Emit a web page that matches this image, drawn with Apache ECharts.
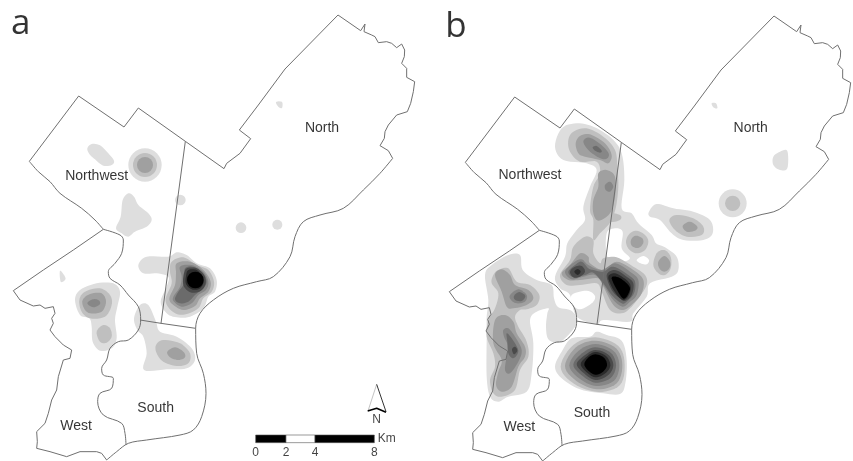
<!DOCTYPE html>
<html><head><meta charset="utf-8">
<style>html,body{margin:0;padding:0;background:#fff}#c{width:853px;height:461px;filter:blur(0.35px)}</style>
<script src="https://cdn.jsdelivr.net/npm/echarts@6/dist/echarts.min.js"></script>
</head><body><div id="c"></div>
<script>
// Map units are thirds of a pixel. "lower" moves points read on the lower half of the sheet.
const lower = pts => pts.map(p => [p[0], p[1] + 660]);
const shift = pts => pts.map(p => [p[0] + 18, p[1] + 3]);

const greys = ['#fff','#dedede','#bfbfbf','#a0a0a0','#878787','#6b6b6b','#4a4a4a','#2a2a2a','#000'];

// ---- district boundaries ----
const northwestEdge = [[310,688],[285,660],[245,625],[180,580],[150,545],[115,515],[88,484]];
const northEdge = [[88,484],[236,288],[372,381],[415,324],[556,424],[672,506],[680,490],[720,460],[752,416],[718,390],[775,315],[855,207],[1014,45],[1082,92],[1095,72],[1092,95],[1115,105],[1125,110],[1135,128],[1160,125],[1175,130],[1190,143],[1205,132],[1214,150],[1213,170],[1205,190],[1220,205],[1220,232],[1244,245],[1240,275],[1232,310],[1222,335],[1190,345],[1165,375],[1155,395],[1153,415],[1140,437],[1165,452],[1178,475]];
const eastRiver = [[1178,475],[1140,520],[1090,570],[1030,625],[960,645],[910,665],[885,710],[870,770],[820,830],[770,845],[700,865],[640,900],[600,940],[587,985],[590,1060],[610,1120],[618,1180],[605,1250],[580,1290],[540,1305],[440,1320],[385,1330],[350,1355],[320,1380]];
const westEdge = [[320,1380],[305,1360],[290,1355],[240,1355],[200,1370],[150,1355],[110,1345],[112,1325],[110,1295],[135,1270],[145,1240],[155,1200],[170,1170],[175,1130],[190,1080],[210,1075],[215,1050],[190,1035],[165,1010],[150,990],[160,970],[155,955],[165,940],[160,920],[135,925],[120,915],[100,918],[60,900],[40,872],[130,810],[220,750],[310,688]];
const riverEdge = [[310,688],[360,705],[370,720],[365,760],[345,790],[325,815],[330,835],[360,855],[385,885],[415,920],[422,960],[415,990],[385,1020],[355,1025],[330,1045],[320,1080],[305,1105],[310,1125],[340,1135],[335,1165],[300,1180],[293,1205],[310,1245],[365,1270],[375,1300],[378,1335]];
const northDivide = [[556,424],[483,970]];
const southDivide = [[420,960],[483,970],[587,985]];

const straightParts = [northEdge, westEdge, northDivide, southDivide];
const curvedParts = [northwestEdge, eastRiver, riverEdge];

// ---- density contours, panel a : [grey level, points] ----
const contoursA = [
  [1, [[262,445],[275,432],[300,436],[325,460],[342,482],[335,495],[310,497],[285,478],[268,462]]],
  [1, [[385,580],[402,590],[415,615],[445,640],[455,660],[440,680],[405,695],[385,710],[365,700],[348,685],[362,650],[368,600]]],
  [1, [[828,306],[846,306],[846,324],[835,320]]],
  [1, lower([[180,152],[195,170],[195,180],[182,185]])],
  [1, lower([[415,135],[440,110],[505,110],[530,97],[560,105],[590,130],[630,145],[650,180],[645,215],[625,230],[610,265],[570,290],[530,292],[500,280],[482,245],[500,200],[505,170],[470,160],[430,160]])],
  [2, lower([[515,125],[550,112],[590,135],[625,150],[642,185],[635,215],[610,235],[595,265],[560,282],[530,282],[505,262],[497,235],[515,190],[510,155]])],
  [3, lower([[530,130],[570,125],[610,150],[632,185],[625,215],[600,235],[585,258],[550,270],[520,255],[508,235],[525,195],[528,160]])],
  [4, lower([[540,140],[575,135],[610,155],[625,185],[618,210],[595,225],[575,250],[545,260],[522,245],[520,230],[540,200],[545,170]])],
  [5, lower([[555,145],[580,140],[610,160],[620,185],[610,205],[585,225],[565,245],[540,250],[525,238],[535,215],[550,195],[555,170]])],
  [6, lower([[560,145],[590,145],[612,165],[617,190],[603,212],[575,218],[552,200],[550,170]])],
  [7, lower([[565,150],[590,150],[607,170],[610,190],[597,207],[575,208],[558,192],[558,168]])],
  [1, lower([[225,240],[240,210],[290,190],[340,190],[360,215],[352,260],[345,300],[350,355],[335,385],[300,392],[278,365],[275,320],[268,295],[240,285]])],
  [2, lower([[238,240],[255,215],[300,205],[330,225],[335,255],[315,290],[270,295],[245,275]])],
  [3, lower([[248,240],[270,222],[305,220],[318,245],[305,275],[270,280],[252,265]])],
  [4, lower([[262,250],[278,238],[295,240],[300,252],[280,262]])],
  [2, lower([[290,335],[310,315],[330,325],[335,350],[320,368],[300,365]])],
  [1, lower([[402,295],[420,255],[445,255],[468,305],[480,335],[530,350],[575,385],[585,420],[560,445],[500,448],[432,450],[440,400],[430,350],[412,330]])],
  [2, lower([[468,375],[490,360],[540,370],[570,400],[565,430],[530,438],[490,425],[470,400]])],
  [3, lower([[502,395],[525,382],[550,395],[555,412],[535,420],[510,412]])]
];
// round spots, panel a : [x, y, radius, grey level]
const spotsA = [
  [435,495,50,1],[435,495,36,2],[435,495,24,3],
  [541,600,16,1],[723,683,16,1],[832,674,15,1],
  [586,840,25,8]
];

// ---- density contours, panel b ----
const contoursB = [
  [1, [[657,635],[680,612],[730,625],[790,635],[840,660],[848,700],[820,720],[760,720],[725,700],[690,660],[660,650]]],
  [2, [[718,660],[740,645],[790,655],[820,680],[815,705],[770,710],[735,690]]],
  [3, [[758,678],[780,665],[802,680],[795,692],[770,695]]],
  [1, [[845,310],[858,310],[862,325],[850,322]]],
  [1, [[1030,470],[1050,455],[1072,453],[1072,505],[1050,510],[1030,495]]],
  // central mass, light level
  [1, [[375,440],[395,385],[440,370],[490,380],[545,415],[575,460],[583,540],[575,625],[605,640],[625,670],[665,705],[678,730],[705,742],[740,770],[745,810],[725,830],[660,850],[650,890],[610,940],[600,965],[520,960],[500,972],[440,950],[420,885],[390,865],[375,830],[405,770],[412,730],[440,690],[465,660],[460,620],[480,560],[500,510],[470,490],[400,480]]],
  [1, lower([[165,165],[185,135],[235,105],[270,105],[278,150],[320,180],[365,195],[372,235],[385,262],[420,270],[438,290],[435,320],[405,355],[385,368],[355,358],[348,320],[352,280],[355,265],[320,275],[300,300],[310,370],[305,460],[290,515],[235,530],[205,545],[180,530],[170,470],[170,350],[170,290],[175,240]])],
  // unshaded gaps inside the central mass
  [0, lower([[530,40],[555,25],[578,35],[575,85],[600,115],[570,125],[532,110]])],
  [0, lower([[620,120],[640,108],[657,120],[650,133],[632,130]])],
  [0, lower([[425,225],[470,212],[495,228],[485,250],[450,268],[430,255]])],
  // ridge from the northwest peak
  [2, [[415,420],[430,395],[470,385],[520,410],[555,450],[562,500],[565,560],[558,620],[545,660],[530,680],[510,700],[490,720],[490,660],[480,630],[490,560],[510,520],[500,485],[450,485],[420,455]]],
  [2, [[535,640],[570,645],[570,660],[540,665]]],
  [3, [[437,430],[450,408],[480,403],[525,430],[545,465],[535,490],[510,480],[465,470],[445,460]]],
  [3, [[505,520],[530,510],[555,530],[555,590],[540,640],[505,662],[490,640],[490,600],[505,560]]],
  [4, [[460,425],[480,413],[520,440],[537,465],[520,478],[480,455]]],
  [5, [[488,442],[500,438],[515,452],[510,458],[495,452]]],
  [4, [[525,555],[540,545],[550,560],[540,575],[527,570]]],
  // two rounded lobes
  [2, lower([[620,32],[645,45],[655,65],[645,90],[620,100],[597,88],[588,65],[598,42]])],
  [3, lower([[620,47],[637,55],[640,68],[632,80],[620,84],[606,78],[602,65],[608,52]])],
  [2, lower([[703,90],[722,110],[722,145],[705,165],[685,160],[670,135],[680,100]])],
  [3, lower([[703,108],[720,125],[718,145],[703,155],[688,145],[685,125]])],
  // central peaks
  [2, lower([[390,165],[420,120],[430,80],[465,50],[490,60],[490,100],[510,130],[520,115],[560,112],[610,140],[645,165],[650,195],[625,235],[600,265],[575,280],[540,270],[515,215],[500,190],[450,195],[410,195]])],
  [3, lower([[395,160],[420,135],[450,100],[475,110],[480,130],[520,150],[560,125],[610,150],[640,180],[635,220],[610,250],[580,270],[550,255],[520,200],[505,175],[450,180],[415,180]])],
  [4, lower([[405,155],[430,128],[455,118],[475,135],[515,150],[555,130],[600,155],[625,180],[620,225],[600,245],[578,260],[550,240],[520,195],[495,165],[460,170],[425,178]])],
  [5, lower([[415,155],[435,135],[455,125],[475,145],[490,150],[520,155],[550,140],[595,165],[615,185],[612,220],[590,245],[575,250],[545,225],[520,190],[490,158],[465,165],[430,172]])],
  [6, lower([[420,155],[435,140],[455,138],[465,155],[450,170],[430,172]])],
  [7, lower([[433,155],[443,147],[452,155],[443,165]])],
  [6, lower([[530,165],[555,150],[590,170],[610,190],[605,225],[585,243],[570,235],[545,210]])],
  [7, lower([[535,170],[555,160],[590,180],[602,200],[597,225],[582,240],[565,230],[545,200]])],
  [8, lower([[545,175],[565,172],[590,190],[600,208],[585,235],[570,225]])],
  // south peak
  [1, lower([[375,440],[395,395],[425,355],[480,350],[500,335],[530,345],[575,362],[590,420],[586,490],[570,522],[520,520],[450,508],[395,475]])],
  [2, lower([[496,352],[565,378],[584,432],[570,495],[505,516],[430,490],[392,440],[430,375]])],
  [3, lower([[496,362],[558,385],[577,435],[560,490],[500,508],[438,482],[405,438],[438,382]])],
  [4, lower([[496,372],[550,392],[568,435],[552,482],[498,498],[446,474],[418,436],[446,392]])],
  [5, lower([[496,382],[542,398],[558,436],[542,474],[496,488],[454,465],[430,434],[456,400]])],
  [6, lower([[496,390],[535,404],[550,436],[534,466],[496,480],[462,460],[440,432],[464,406]])],
  [7, lower([[496,396],[528,408],[541,436],[526,460],[496,472],[468,455],[452,432],[470,410]])],
  [8, lower([[496,403],[522,413],[531,436],[518,456],[496,464],[475,452],[463,432],[476,412]])],
  // west ridge
  [2, lower([[190,165],[205,150],[235,145],[260,185],[300,195],[328,225],[320,255],[290,268],[270,270],[255,290],[265,320],[290,365],[295,410],[270,450],[255,510],[215,530],[190,520],[180,480],[195,440],[190,400],[170,350],[175,300],[195,265],[205,220],[185,190]])],
  [3, lower([[195,165],[215,148],[240,165],[255,195],[295,210],[310,235],[290,255],[250,265],[230,260],[215,215]])],
  [3, lower([[195,300],[225,285],[250,305],[260,340],[285,380],[285,410],[265,440],[245,500],[215,515],[198,495],[205,455],[215,420],[190,370]])],
  [4, lower([[240,225],[265,208],[290,225],[285,245],[260,250],[243,240]])],
  [4, lower([[220,330],[235,325],[255,350],[275,390],[265,425],[240,460],[225,450],[230,410],[235,380],[222,350]])],
  [5, lower([[230,340],[245,355],[265,392],[250,415],[235,400],[232,365]])],
  [5, lower([[252,228],[268,216],[286,228],[275,243],[256,240]])],
  [6, lower([[246,388],[255,380],[262,392],[252,403]])]
];
const spotsB = [[908,610,42,1],[908,610,23,2]];

// ---- labels ----
const panelLetters = [['a',62,72],['b',78,82]];
const regionNamesA = [['North',966,383],['Northwest',290,528],['South',467,1225],['West',228,1277]];
const regionNamesB = [['North',962,383],['Northwest',300,524],['South',486,1238],['West',268,1280]];

// ---- scale bar and north arrow ----
const scaleStops = ['0','2','4','8'];
const scaleX = [767,858,945,1123];
const scaleFill = ['#000','#fff','#000'];
const arrowLeft = lower([[1130,493],[1105,570]]);
const arrowRight = lower([[1130,493],[1158,575]]);
const arrowBase = lower([[1103,573],[1130,565],[1158,577]]);

// rounds the drawn outline of a contour (closed Catmull-Rom through its points)
function rounded(pts){
  const out=[], n=pts.length;
  for(let i=0;i<n;i++){
    const a=pts[(i+n-1)%n], b=pts[i], c=pts[(i+1)%n], d=pts[(i+2)%n];
    for(let k=0;k<6;k++){
      const t=k/6, t2=t*t, t3=t2*t;
      out.push([0,1].map(j=>0.5*(2*b[j]+(c[j]-a[j])*t+(2*a[j]-5*b[j]+4*c[j]-d[j])*t2+(3*b[j]-a[j]-3*c[j]+d[j])*t3)));
    }
  }
  return out;
}
function polygonSeries(idx, list){
  return {type:'custom',coordinateSystem:'cartesian2d',xAxisIndex:idx,yAxisIndex:idx,silent:true,animation:false,z:2,clip:false,
    data:list.map((d,i)=>[i]),
    renderItem(params,api){
      const c=list[api.value(0)];
      return {type:'polygon',shape:{points:rounded(c[1]).map(p=>api.coord(p))},style:{fill:greys[c[0]]}};
    }};
}
function spotSeries(idx, list){
  return {type:'custom',coordinateSystem:'cartesian2d',xAxisIndex:idx,yAxisIndex:idx,silent:true,animation:false,z:3,clip:false,
    data:list,
    renderItem(params,api){
      const o=api.coord([api.value(0),api.value(1)]);
      const r=api.size([api.value(2),0])[0];
      return {type:'circle',shape:{cx:o[0],cy:o[1],r:r},style:{fill:greys[api.value(3)]}};
    }};
}
function lineSeries(idx, pts, color, width, smooth){
  return {type:'line',xAxisIndex:idx,yAxisIndex:idx,data:pts,symbol:'none',silent:true,animation:false,z:4,clip:false,
    lineStyle:{color:color,width:width},smooth:smooth||false};
}
function textSeries(idx, list, font){
  return {type:'scatter',xAxisIndex:idx,yAxisIndex:idx,silent:true,animation:false,z:5,symbolSize:1,clip:false,
    itemStyle:{color:'rgba(0,0,0,0)'},
    data:list.map(t=>({value:[t[1],t[2]],name:t[0]})),
    label:Object.assign({show:true,position:'inside',formatter:p=>p.name,align:'center',verticalAlign:'middle'},font)};
}

const scaleSeries = {type:'custom',coordinateSystem:'cartesian2d',xAxisIndex:0,yAxisIndex:0,silent:true,animation:false,z:4,clip:false,
  data:scaleFill.map((f,i)=>[i]),
  renderItem(params,api){
    const i=api.value(0);
    const a=api.coord([scaleX[i],1305]), b=api.coord([scaleX[i+1],1328]);
    return {type:'rect',shape:{x:a[0],y:a[1],width:b[0]-a[0],height:b[1]-a[1]},style:{fill:scaleFill[i],stroke:'#555',lineWidth:0.6}};
  }};

const mapFont = {fontFamily:'Liberation Sans, Arial, sans-serif',fontSize:14,color:'#000'};
const letterFont = {fontFamily:'Open Sans, sans-serif',fontSize:35,color:'#000'};
const smallFont = {fontFamily:'Liberation Sans, Arial, sans-serif',fontSize:12,color:'#111'};

const series = [
  polygonSeries(0,contoursA), spotSeries(0,spotsA),
  polygonSeries(1,contoursB), spotSeries(1,spotsB)
];
straightParts.forEach(p=>{
  series.push(lineSeries(0,p,'#707070',1));
  series.push(lineSeries(1,shift(p),'#707070',1));
});
curvedParts.forEach(p=>{
  series.push(lineSeries(0,p,'#707070',1,0.35));
  series.push(lineSeries(1,shift(p),'#707070',1,0.35));
});
series.push(scaleSeries);
series.push(lineSeries(0,arrowLeft,'#c4c4c4',1));
series.push(lineSeries(0,arrowRight,'#333',1));
series.push(lineSeries(0,arrowBase,'#000',1.6));
series.push(textSeries(0,[['a',panelLetters[0][1],panelLetters[0][2]]],letterFont));
series.push(textSeries(1,[['b',panelLetters[1][1],panelLetters[1][2]]],letterFont));
series.push(textSeries(0,regionNamesA,mapFont));
series.push(textSeries(1,regionNamesB,mapFont));
series.push(textSeries(0,scaleStops.map((s,i)=>[s,scaleX[i],1358]),smallFont));
series.push(textSeries(0,[['Km',1160,1316],['N',1130,1258]],smallFont));

const chart = echarts.init(document.getElementById('c'),null,{renderer:'canvas'});
const hiddenX = max => ({type:'value',min:0,max:max,show:false});
chart.setOption({
  backgroundColor:'#fff',animation:false,tooltip:{show:false},legend:{show:false},
  grid:[{left:0,top:0,width:430,height:461},{left:430,top:0,width:423,height:461}],
  xAxis:[Object.assign(hiddenX(1290),{gridIndex:0}),Object.assign(hiddenX(1269),{gridIndex:1})],
  yAxis:[0,1].map(g=>({type:'value',gridIndex:g,min:0,max:1383,inverse:true,show:false})),
  series:series
});
</script></body></html>
